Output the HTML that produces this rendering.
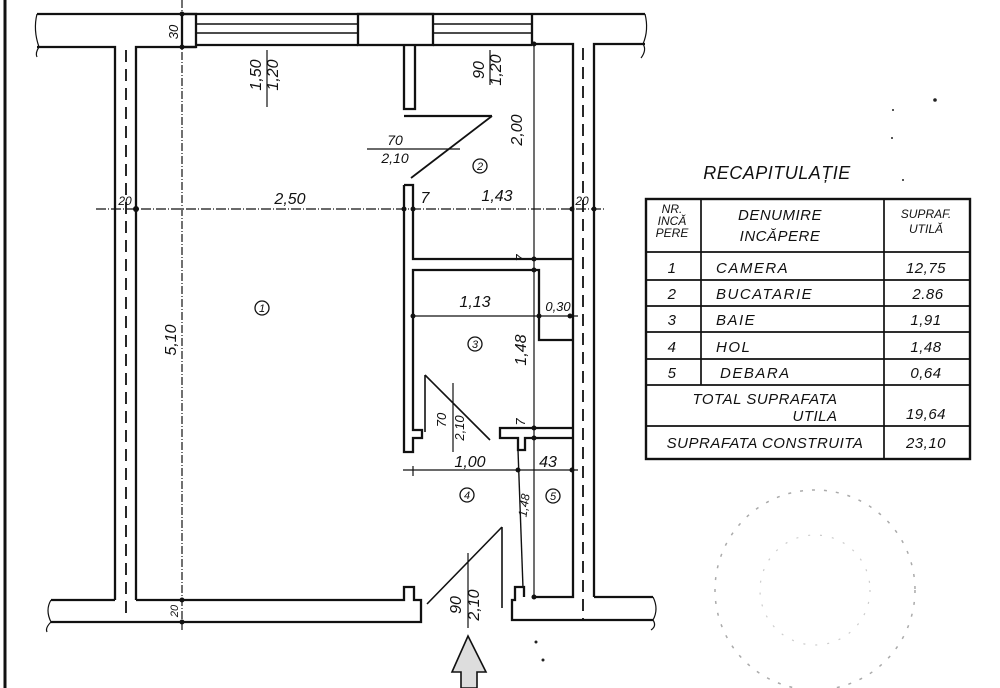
<!DOCTYPE html>
<html><head><meta charset="utf-8"><style>
html,body{margin:0;padding:0;background:#fff;}
svg{display:block}
text{font-family:"Liberation Sans",sans-serif;font-style:italic;fill:#111}
</style></head><body>
<svg width="1000" height="688" viewBox="0 0 1000 688" xmlns="http://www.w3.org/2000/svg">
<g stroke="#111" fill="none" stroke-width="2.3">
<line x1="5" y1="0" x2="5" y2="688" stroke-width="3"/>
<line x1="37" y1="14" x2="645" y2="14"/>
<path d="M37 47 H115 V600"/>
<path d="M136 600 V47 H196"/>
<path d="M37 14 q-4 16 2 33 q-4 6 -2 10" stroke-width="1.2"/>
<path d="M645 14 q4 16 -2 30 q4 6 -2 14" stroke-width="1.2"/>
<rect x="182" y="14" width="14" height="33"/>
<line x1="196" y1="24" x2="358" y2="24" stroke-width="1.5"/>
<line x1="196" y1="33" x2="358" y2="33" stroke-width="1.5"/>
<line x1="196" y1="45" x2="358" y2="45"/>
<rect x="358" y="14" width="75" height="31"/>
<line x1="433" y1="24" x2="532" y2="24" stroke-width="1.5"/>
<line x1="433" y1="33" x2="532" y2="33" stroke-width="1.5"/>
<line x1="433" y1="45" x2="532" y2="45"/>
<line x1="532" y1="14" x2="532" y2="45"/>
<path d="M532 44 H573 V597 H532"/>
<path d="M594 597 V44 H645"/>
<path d="M404 45 V109 H415 V45"/>
<line x1="404" y1="116" x2="492" y2="116"/>
<line x1="492" y1="116" x2="411" y2="178" stroke-width="1.8"/>
<path d="M404 185 H413 V259 H573"/>
<path d="M404 185 V452 H413 V438 H422 V430 H413 V270 H539 V340 H572"/>
<path d="M572 428 H500 V438 H518 V450 H525 V438 H532"/>
<line x1="532" y1="438" x2="572" y2="438"/>
<line x1="425" y1="375" x2="490" y2="440" stroke-width="1.6"/>
<line x1="425" y1="375" x2="425" y2="432" stroke-width="1.6"/>
<line x1="518" y1="450" x2="523" y2="588" stroke-width="1.4"/>
<path d="M51 600 H115"/>
<path d="M136 600 H404 V587 H414 V600 H421 V622 H51"/>
<path d="M51 600 q-6 10 0 22 q-6 6 -4 10" stroke-width="1.2"/>
<path d="M524 597 V587 H515 V600 H512 V620 H653"/>
<path d="M594 597 H653"/>
<path d="M653 597 q6 12 0 23 q4 6 -2 10" stroke-width="1.2"/>
<line x1="427" y1="604" x2="502" y2="527" stroke-width="1.6"/>
<line x1="502" y1="527" x2="502" y2="608" stroke-width="1.6"/>
</g>
<g stroke="#111" stroke-width="1.8" stroke-dasharray="12,7" fill="none">
<line x1="126" y1="50" x2="126" y2="620"/>
<line x1="583" y1="48" x2="583" y2="620"/>
</g>
<g stroke="#111" stroke-width="1.2" fill="none">
<line x1="182" y1="0" x2="182" y2="630" stroke-dasharray="8,2,1,2"/>
<line x1="267" y1="50" x2="267" y2="107"/>
<line x1="490" y1="50" x2="490" y2="85"/>
<line x1="367" y1="149" x2="460" y2="149"/>
<line x1="534" y1="44" x2="534" y2="597"/>
<line x1="96" y1="209" x2="605" y2="209" stroke-dasharray="10,2,1,2"/>
<line x1="413" y1="316" x2="578" y2="316"/>
<line x1="403" y1="470" x2="578" y2="470"/>
<line x1="413" y1="466" x2="413" y2="476"/>
<line x1="453" y1="383" x2="453" y2="452"/>
<line x1="468" y1="553" x2="468" y2="628"/>
</g>
<g fill="#111">
<circle cx="182" cy="14" r="2.5"/><circle cx="182" cy="47" r="2.5"/>
<circle cx="136" cy="209" r="3"/><circle cx="404" cy="209" r="2.5"/><circle cx="413" cy="209" r="2.5"/>
<circle cx="572" cy="209" r="2.5"/><circle cx="594" cy="209" r="2.5"/>
<circle cx="534" cy="44" r="2.5"/><circle cx="534" cy="259" r="2.5"/><circle cx="534" cy="270" r="2.5"/>
<circle cx="413" cy="316" r="2.5"/><circle cx="539" cy="316" r="2.5"/><circle cx="570" cy="316" r="2.5"/>
<circle cx="534" cy="428" r="2.5"/><circle cx="534" cy="438" r="2.5"/>
<circle cx="518" cy="470" r="2.5"/><circle cx="572" cy="470" r="2.5"/>
<circle cx="182" cy="600" r="2.5"/><circle cx="182" cy="622" r="2.5"/><circle cx="534" cy="597" r="2.5"/>
</g>
<g stroke="#111" stroke-width="1.3" fill="none">
<circle cx="262" cy="308" r="7"/><circle cx="480" cy="166" r="7"/><circle cx="475" cy="344" r="7"/>
<circle cx="467" cy="495" r="7"/><circle cx="553" cy="496" r="7"/>
</g>
<g font-size="11" text-anchor="middle">
<text x="262" y="312">1</text><text x="480" y="170">2</text><text x="475" y="348">3</text>
<text x="467" y="499">4</text><text x="553" y="500">5</text>
</g>
<g font-size="16">
<text x="290" y="204" text-anchor="middle">2,50</text>
<text x="497" y="201" text-anchor="middle">1,43</text>
<text x="425" y="203" text-anchor="middle">7</text>
<text x="475" y="307" text-anchor="middle">1,13</text>
<text x="470" y="467" text-anchor="middle">1,00</text>
<text x="548" y="467" text-anchor="middle">43</text>
<text x="395" y="145" text-anchor="middle" font-size="14">70</text>
<text x="395" y="163" text-anchor="middle" font-size="14">2,10</text>
</g>
<g font-size="12">
<text x="125" y="205" text-anchor="middle">20</text>
<text x="582" y="205" text-anchor="middle">20</text>
<text x="558" y="311" text-anchor="middle" font-size="13">0,30</text>
</g>
<g font-size="16" text-anchor="middle">
<text transform="translate(178,32) rotate(-90)" font-size="13">30</text>
<text transform="translate(261,75) rotate(-90)">1,50</text>
<text transform="translate(278,75) rotate(-90)">1,20</text>
<text transform="translate(484,70) rotate(-90)">90</text>
<text transform="translate(501,70) rotate(-90)">1,20</text>
<text transform="translate(522,130) rotate(-90)">2,00</text>
<text transform="translate(176,340) rotate(-90)">5,10</text>
<text transform="translate(526,350) rotate(-90)">1,48</text>
<text transform="translate(525,258) rotate(-90)" font-size="13">7</text>
<text transform="translate(525,422) rotate(-90)" font-size="13">7</text>
<text transform="translate(446,420) rotate(-90)" font-size="13">70</text>
<text transform="translate(464,428) rotate(-90)" font-size="13">2,10</text>
<text transform="translate(528,506) rotate(-82)" font-size="12">1,48</text>
<text transform="translate(461,605) rotate(-90)">90</text>
<text transform="translate(479,605) rotate(-90)">2,10</text>
<text transform="translate(178,611) rotate(-90)" font-size="11">20</text>
</g>
<path d="M468 636 L486 672 H477 V688 H461 V672 H452 Z" fill="#ddd" stroke="#111" stroke-width="1.6"/>
<text x="777" y="179" font-size="18" text-anchor="middle" letter-spacing="0.5">RECAPITULAȚIE</text>
<g stroke="#111" fill="none">
<rect x="646" y="199" width="324" height="260" stroke-width="2.4"/>
<g stroke-width="1.7">
<line x1="646" y1="252" x2="970" y2="252"/>
<line x1="646" y1="280" x2="970" y2="280"/>
<line x1="646" y1="306" x2="970" y2="306"/>
<line x1="646" y1="332" x2="970" y2="332"/>
<line x1="646" y1="359" x2="970" y2="359"/>
<line x1="646" y1="385" x2="970" y2="385"/>
<line x1="646" y1="426" x2="970" y2="426"/>
<line x1="701" y1="199" x2="701" y2="385"/>
<line x1="884" y1="199" x2="884" y2="459"/>
</g>
</g>
<g font-size="12" text-anchor="middle">
<text x="672" y="213">NR.</text><text x="672" y="225">INCĂ</text><text x="672" y="237">PERE</text>
<text x="926" y="218">SUPRAF.</text><text x="926" y="233">UTILĂ</text>
</g>
<g font-size="15" text-anchor="middle" letter-spacing="0.5">
<text x="780" y="220">DENUMIRE</text><text x="780" y="241">INCĂPERE</text>
<text x="672" y="273">1</text><text x="672" y="299">2</text><text x="672" y="325">3</text><text x="672" y="352">4</text><text x="672" y="378">5</text>
<text x="926" y="273">12,75</text><text x="928" y="299">2.86</text><text x="926" y="325">1,91</text><text x="926" y="352">1,48</text><text x="926" y="378">0,64</text>
<text x="765" y="404">TOTAL SUPRAFATA</text><text x="815" y="421">UTILA</text>
<text x="926" y="419">19,64</text>
<text x="765" y="448">SUPRAFATA CONSTRUITA</text><text x="926" y="448">23,10</text>
</g>
<g font-size="15" letter-spacing="1.5">
<text x="716" y="273">CAMERA</text><text x="716" y="299">BUCATARIE</text><text x="716" y="325">BAIE</text><text x="716" y="352">HOL</text><text x="720" y="378">DEBARA</text>
</g>
<circle cx="815" cy="590" r="100" fill="none" stroke="#aaa" stroke-width="1.5" stroke-dasharray="3,9"/>
<circle cx="815" cy="590" r="55" fill="none" stroke="#ccc" stroke-width="1.2" stroke-dasharray="2,10"/>
<g fill="#222"><circle cx="935" cy="100" r="1.8"/><circle cx="893" cy="110" r="1"/><circle cx="892" cy="138" r="1"/><circle cx="903" cy="180" r="1"/><circle cx="536" cy="642" r="1.5"/><circle cx="543" cy="660" r="1.5"/></g>
</svg>
</body></html>
